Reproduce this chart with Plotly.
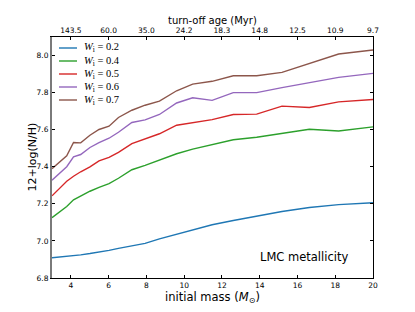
import plotly.graph_objects as go

# Initial mass grid (M_sun)
mass = [3.0, 3.78, 4.14, 4.52, 5.01, 5.49, 6.02, 6.52, 7.23, 7.93, 8.69,
        9.60, 10.45, 11.48, 12.60, 13.84, 15.18, 16.63, 18.18, 20.0]

nh_w02 = [6.909, 6.916, 6.920, 6.925, 6.932, 6.939, 6.949, 6.960, 6.973, 6.987, 7.011,
          7.037, 7.060, 7.087, 7.110, 7.135, 7.159, 7.180, 7.196, 7.206]
nh_w04 = [7.125, 7.186, 7.222, 7.243, 7.268, 7.289, 7.309, 7.338, 7.384, 7.408, 7.435,
          7.470, 7.495, 7.519, 7.546, 7.559, 7.579, 7.602, 7.593, 7.615]
nh_w05 = [7.243, 7.322, 7.349, 7.373, 7.399, 7.432, 7.451, 7.478, 7.525, 7.551, 7.578,
          7.624, 7.637, 7.654, 7.682, 7.684, 7.727, 7.720, 7.750, 7.763]
nh_w06 = [7.327, 7.400, 7.453, 7.466, 7.504, 7.530, 7.554, 7.586, 7.639, 7.653, 7.682,
          7.744, 7.772, 7.758, 7.800, 7.800, 7.827, 7.854, 7.882, 7.904]
nh_w07 = [7.390, 7.459, 7.531, 7.529, 7.570, 7.601, 7.619, 7.666, 7.705, 7.732, 7.754,
          7.810, 7.846, 7.861, 7.891, 7.891, 7.909, 7.955, 8.008, 8.030]

series_labels = ["0.2", "0.4", "0.5", "0.6", "0.7"]
series_values = [nh_w02, nh_w04, nh_w05, nh_w06, nh_w07]
colors = ["#1f77b4", "#2ca02c", "#d62728", "#9467bd", "#8c564b"]

bottom_ticks = [4, 6, 8, 10, 12, 14, 16, 18, 20]
top_tick_labels = ["143.5", "60.0", "35.0", "24.2", "18.3", "14.8", "12.5", "10.9", "9.7"]
y_ticks = [6.8, 7.0, 7.2, 7.4, 7.6, 7.8, 8.0]

# page body adds an 8px offset; compensate
OFF = 8
W, H = 415 - OFF, 312 - OFF
L, R, T, B = 52 - OFF, 42, 37 - OFF, 34
pw, ph = W - L - R, H - T - B

fig = go.Figure()
for lab, vals, c in zip(series_labels, series_values, colors):
    fig.add_trace(go.Scatter(x=mass, y=vals, mode="lines", name=lab,
                             line=dict(color=c, width=1.4), showlegend=False))

font = "DejaVu Sans"
tickfont = dict(family=font, size=7.5, color="black")

fig.update_layout(
    width=W, height=H,
    margin=dict(l=L, r=R, t=T, b=B),
    paper_bgcolor="white", plot_bgcolor="white",
    xaxis=dict(range=[3, 20], tickvals=bottom_ticks, ticktext=[str(t) for t in bottom_ticks],
               ticks="inside", ticklen=3, tickcolor="black", showgrid=False, zeroline=False,
               showline=True, linecolor="black", linewidth=1, tickfont=tickfont,
               title=dict(text="initial mass (<i>M</i><sub>⊙</sub>)",
                          font=dict(family=font, size=11.5, color="black"), standoff=3)),
    xaxis2=dict(range=[3, 20], overlaying="x", side="top", anchor="y",
                tickvals=bottom_ticks, ticktext=top_tick_labels,
                ticks="inside", ticklen=3, tickcolor="black", showgrid=False, zeroline=False,
                showline=True, linecolor="black", linewidth=1, tickfont=tickfont),
    yaxis=dict(range=[6.8, 8.1], tickvals=y_ticks, ticktext=[f"{v:.1f}" for v in y_ticks],
               ticks="inside", ticklen=3, tickcolor="black", showgrid=False, zeroline=False,
               showline=True, linecolor="#7a7a7a", linewidth=2, tickfont=tickfont),
    yaxis2=dict(range=[6.8, 8.1], overlaying="y", side="right", anchor="x",
                tickvals=y_ticks, showticklabels=False,
                ticks="inside", ticklen=3, tickcolor="black", showgrid=False, zeroline=False,
                showline=True, linecolor="black", linewidth=1),
)

# invisible traces so the overlay axes are rendered
fig.add_trace(go.Scatter(x=[3, 20], y=[6.8, 6.8], xaxis="x2", yaxis="y", mode="lines",
                         line=dict(width=0), hoverinfo="skip", showlegend=False))
fig.add_trace(go.Scatter(x=[3, 20], y=[6.8, 6.8], xaxis="x", yaxis="y2", mode="lines",
                         line=dict(width=0), hoverinfo="skip", showlegend=False))

# Axis titles placed as annotations for exact positioning
fig.add_annotation(xref="paper", yref="paper", x=0.5, y=1, yanchor="middle", yshift=17,
                   showarrow=False, text="turn-off age (Myr)",
                   font=dict(family=font, size=10, color="black"))
fig.add_annotation(xref="paper", yref="paper", x=0, y=0.5, xanchor="center", xshift=-20,
                   textangle=-90, showarrow=False, text="12+log(N/H)",
                   font=dict(family=font, size=11, color="black"))

# Legend (paper coordinates, no frame)
leg_x0, leg_x1, leg_tx = 7 / pw, 25 / pw, 30 / pw
for i, (lab, c) in enumerate(zip(series_labels, colors)):
    yp = 1 - (11 + 13 * i) / ph
    fig.add_shape(type="line", xref="paper", yref="paper", x0=leg_x0, x1=leg_x1,
                  y0=yp, y1=yp, line=dict(color=c, width=1.4))
    fig.add_annotation(xref="paper", yref="paper", x=leg_tx, y=yp, xanchor="left",
                       yanchor="middle", showarrow=False,
                       text=f"<i>W</i><sub>i</sub> = {lab}",
                       font=dict(family="Liberation Serif", size=10.5, color="black"))

fig.add_annotation(x=16.36, y=6.916, xref="x", yref="y", showarrow=False,
                   text="LMC metallicity", font=dict(family=font, size=11.5, color="black"))

fig.write_html("out.html")
